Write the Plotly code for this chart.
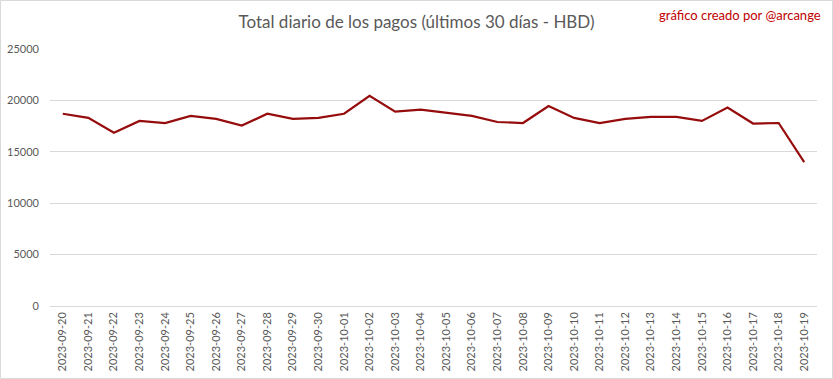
import plotly.graph_objects as go

dates = ["2023-09-20","2023-09-21","2023-09-22","2023-09-23","2023-09-24","2023-09-25",
         "2023-09-26","2023-09-27","2023-09-28","2023-09-29","2023-09-30","2023-10-01",
         "2023-10-02","2023-10-03","2023-10-04","2023-10-05","2023-10-06","2023-10-07",
         "2023-10-08","2023-10-09","2023-10-10","2023-10-11","2023-10-12","2023-10-13",
         "2023-10-14","2023-10-15","2023-10-16","2023-10-17","2023-10-18","2023-10-19"]
totals = [18700, 18300, 16850, 18000, 17800, 18500,
          18200, 17550, 18700, 18200, 18300, 18700,
          20450, 18900, 19100, 18800, 18500, 17900,
          17800, 19450, 18300, 17800, 18200, 18400,
          18400, 18000, 19300, 17750, 17800, 14000]
y_ticks = [0, 5000, 10000, 15000, 20000, 25000]
y_tick_labels = [str(v) for v in y_ticks]

title_text = "Total diario de los pagos (últimos 30 días - HBD)"
credit_text = "gráfico creado por @arcange"

W, H = 833, 379
ml, mr, mt, mb = 50, 16, 49, 73
pw, ph = W - ml - mr, H - mt - mb

fig = go.Figure(go.Scatter(
    x=dates, y=totals, mode="lines",
    line=dict(color="#960c0c", width=2.2),
))

font_family = "Lato, Carlito, 'Liberation Sans', sans-serif"

fig.update_layout(
    width=W, height=H,
    margin=dict(l=ml, r=mr, t=mt, b=mb, autoexpand=False),
    paper_bgcolor="white", plot_bgcolor="white",
    showlegend=False,
    font=dict(family=font_family, color="#595959"),
    title=dict(text=title_text, x=0.5, xanchor="center", y=1 - 22 / H, yanchor="middle",
               font=dict(size=17, color="#595959", family=font_family)),
    xaxis=dict(type="category", range=[-0.5, len(dates) - 0.5], tickangle=-90,
               showgrid=False, showline=False, automargin=False,
               ticks="", tickfont=dict(size=11, color="#595959"), ticklabelstandoff=3),
    yaxis=dict(range=[0, 25000], tickvals=y_ticks, ticktext=y_tick_labels,
               showgrid=True, gridcolor="#d9d9d9", automargin=False,
               gridwidth=1, zeroline=True, zerolinecolor="#d9d9d9", zerolinewidth=1,
               showline=False, ticks="", tickfont=dict(size=11, color="#595959"),
               ticklabelstandoff=10),
    annotations=[dict(text=credit_text, xref="paper", yref="paper",
                      x=(823 - ml) / pw, y=(H - 15 - mb) / ph, xanchor="right", yanchor="middle",
                      showarrow=False, font=dict(size=13, color="#c00000", family=font_family))],
    shapes=[dict(type="rect", xref="paper", yref="paper",
                 x0=(0.5 - ml) / pw, x1=(W - 0.5 - ml) / pw,
                 y0=(0.5 - mb) / ph, y1=(H - 0.5 - mb) / ph,
                 line=dict(color="#d9d9d9", width=1), fillcolor="rgba(0,0,0,0)", layer="below")],
)

fig.write_html("out.html", config={"displayModeBar": False},
               post_script="document.body.style.margin='0';")
